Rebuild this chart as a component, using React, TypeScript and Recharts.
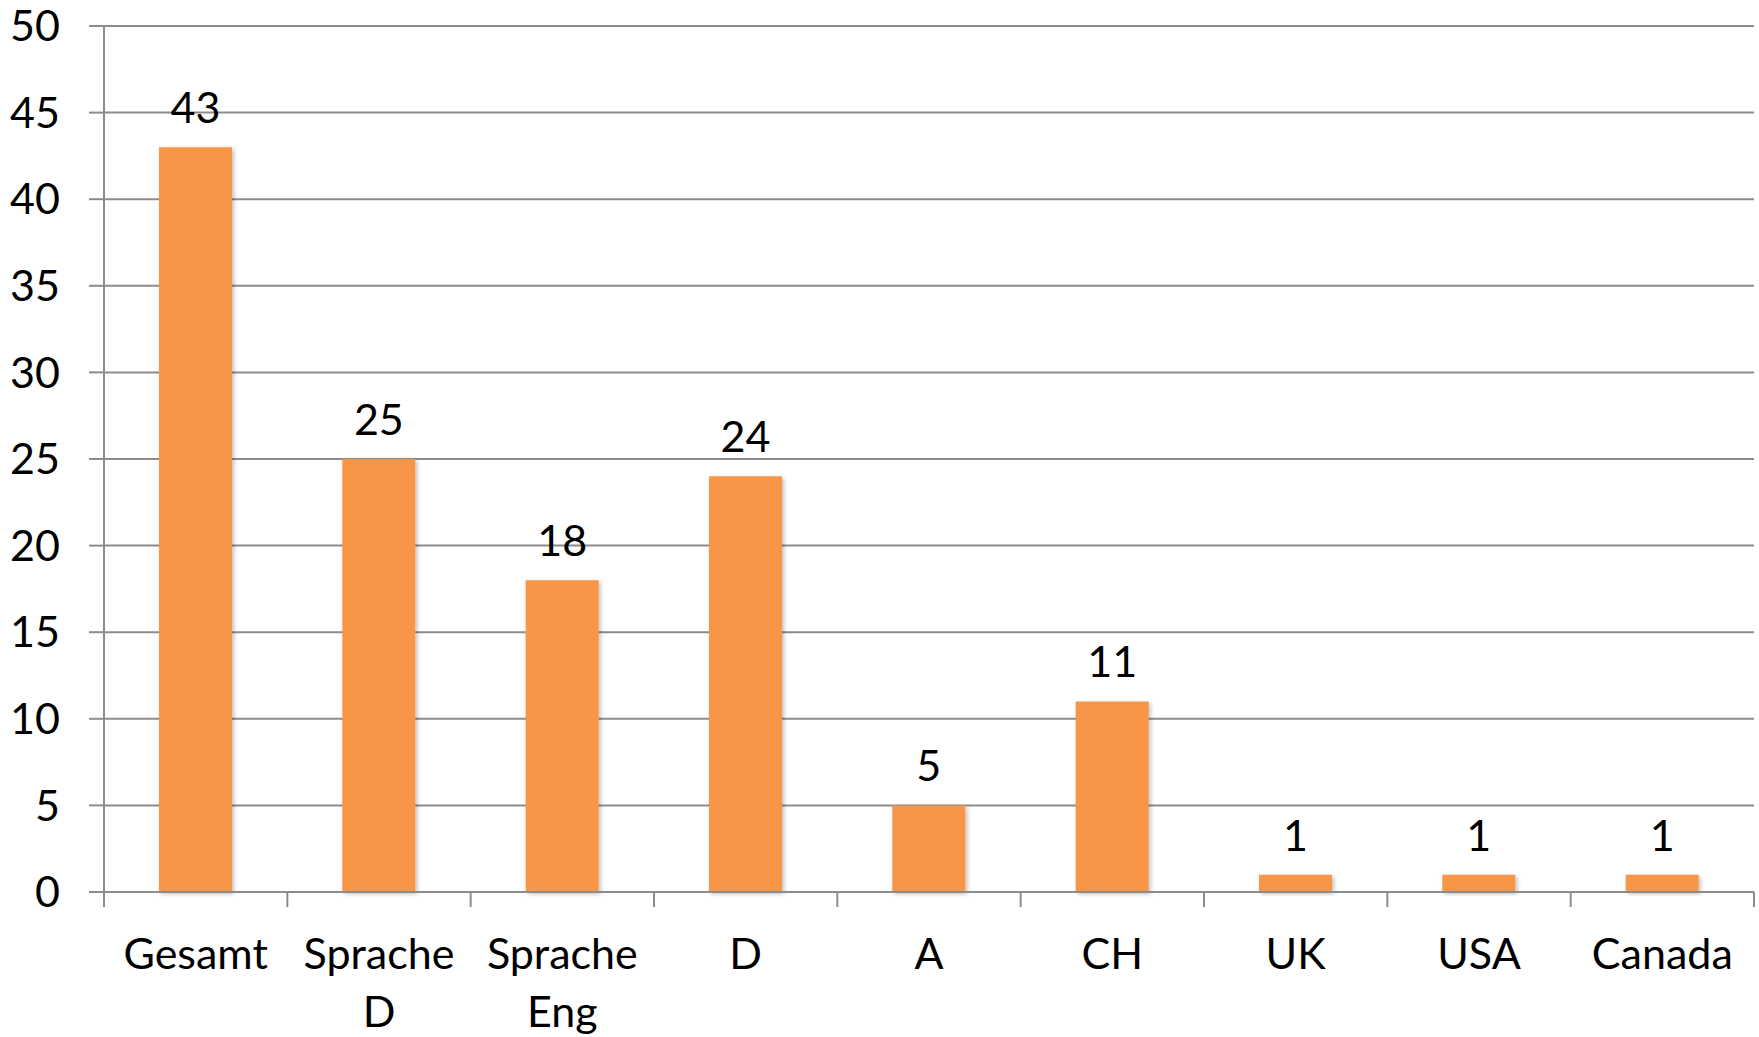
import React from 'react';
import { BarChart, Bar, XAxis, YAxis, CartesianGrid, LabelList } from 'recharts';

const categories = ['Gesamt', 'Sprache D', 'Sprache Eng', 'D', 'A', 'CH', 'UK', 'USA', 'Canada'];
const counts = [43, 25, 18, 24, 5, 11, 1, 1, 1];
const yTicks = [0, 5, 10, 15, 20, 25, 30, 35, 40, 45, 50];

// slot = middle of the category's band on the numeric edge axis
const data = categories.map((name, i) => ({ name, value: counts[i], slot: i + 0.5 }));
// band edges for the tick marks between categories
const edgeTicks = [...categories.map((_, i) => i), categories.length];

const FONT = 'Lato, "DejaVu Sans", sans-serif';
const FONT_SIZE = 43;
const GRID = '#8c8c8c';
const BAR = '#F79646';

function CategoryTick(props: any) {
  const { x, y, payload } = props;
  const lines = String(payload.value).split(' ');
  return (
    <text x={x} y={y} textAnchor="middle" fill="#000" fontSize={FONT_SIZE} fontFamily={FONT}>
      {lines.map((line, i) => (
        <tspan key={i} x={x} dy={i === 0 ? 76 : 58}>
          {line}
        </tspan>
      ))}
    </text>
  );
}

function EmptyTick() {
  return <g />;
}

export default function App() {
  return (
    <div style={{ width: 1759, height: 1037, background: '#fff' }}>
      <style>{'body{margin:0;}'}</style>
      <BarChart
        width={1759}
        height={1037}
        data={data}
        margin={{ top: 26, right: 5, bottom: 0, left: 0 }}
        barCategoryGap="30%"
      >
        <defs>
          <filter id="barShadow" x="-10%" y="-10%" width="130%" height="130%">
            <feDropShadow dx="2" dy="2" stdDeviation="2" floodColor="#000" floodOpacity="0.25" />
          </filter>
        </defs>
        <CartesianGrid xAxisId="b_cat" vertical={false} stroke={GRID} strokeWidth={2} />
        <XAxis
          xAxisId="b_cat"
          dataKey="name"
          axisLine={false}
          tickLine={false}
          tickSize={0}
          tickMargin={0}
          interval={0}
          height={144}
          tick={<CategoryTick />}
        />
        <XAxis
          xAxisId="a_edges"
          dataKey="slot"
          type="number"
          domain={[0, categories.length]}
          allowDataOverflow
          ticks={edgeTicks}
          interval={0}
          tick={<EmptyTick />}
          tickSize={15}
          tickLine={{ stroke: GRID, strokeWidth: 2 }}
          axisLine={{ stroke: GRID, strokeWidth: 2 }}
          height={1}
        />
        <YAxis
          domain={[0, 50]}
          ticks={yTicks}
          interval={0}
          width={104}
          tickSize={15}
          tickMargin={29}
          tickLine={{ stroke: GRID, strokeWidth: 2 }}
          axisLine={{ stroke: GRID, strokeWidth: 2 }}
          tick={{ fill: '#000', fontSize: FONT_SIZE, fontFamily: FONT }}
        />
        <Bar xAxisId="b_cat" dataKey="value" fill={BAR} isAnimationActive={false} style={{ filter: 'url(#barShadow)' }}>
          <LabelList dataKey="value" position="top" offset={24} fill="#000" fontSize={FONT_SIZE} fontFamily={FONT} />
        </Bar>
      </BarChart>
    </div>
  );
}
